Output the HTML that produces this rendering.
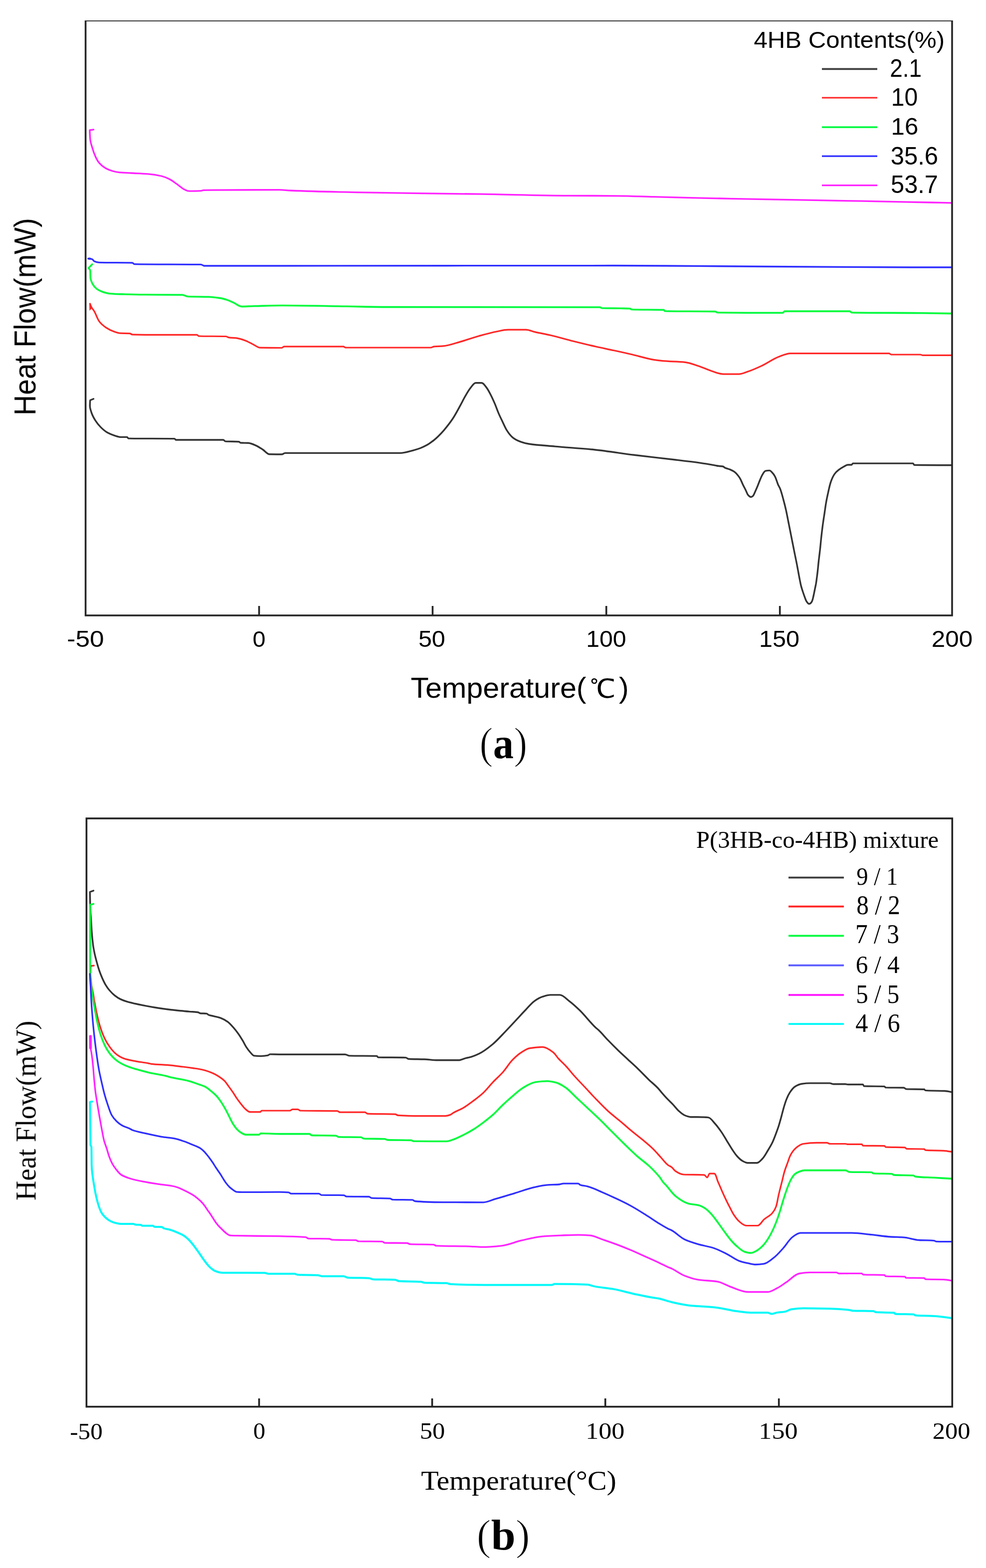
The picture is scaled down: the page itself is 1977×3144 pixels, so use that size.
<!DOCTYPE html>
<html lang="en"><head><meta charset="utf-8"><title>DSC thermograms of P(3HB-co-4HB)</title>
<style>
html,body{margin:0;padding:0;background:#fff;}
body{width:1977px;height:3144px;overflow:hidden;}
svg{display:block;}
</style></head>
<body>
<svg width="1977" height="3144" viewBox="0 0 1977 3144" xmlns="http://www.w3.org/2000/svg">
<defs><filter id="soft" x="0" y="0" width="1" height="1"><feGaussianBlur stdDeviation="0.5"/></filter></defs>
<rect width="1977" height="3144" fill="#fff"/>
<g filter="url(#soft)">
<!-- ===== Plot (a): 4HB contents ===== -->
<g fill="none" stroke-linejoin="round" stroke-linecap="round">
<path d="M187.5,799.8L180.9,802.5C180.3,806.5 180.3,810.4 180.3,814.3C180.3,818.8 182.1,823.3 183.5,827.6C185.3,833.1 188.3,838.5 191.4,843.4C194.3,848.1 198.1,852.7 202.0,856.6C205.9,860.5 210.4,864.5 215.2,867.2C220.0,869.9 225.6,872.1 231.0,873.8C234.4,874.9 238.0,876.4 241.6,876.4C245.9,876.4 251.3,876.4 254.8,876.4C255.8,876.4 256.5,879.1 257.5,879.1C281.7,879.6 324.7,879.1 349.9,879.6C350.9,879.6 351.6,882.0 352.6,882.0C378.6,882.0 420.2,882.0 447.7,882.0C449.1,882.0 450.3,884.8 451.7,884.9C459.8,885.5 471.6,885.0 479.4,885.7C480.3,885.8 481.1,887.7 482.0,887.8C486.5,888.2 492.7,888.0 497.9,888.3C503.3,888.6 508.7,891.4 513.7,893.6C518.3,895.6 522.7,898.7 527.0,901.5C531.5,904.4 535.4,910.7 540.2,910.8C547.6,910.9 557.1,911.0 565.0,911.0C567.3,911.0 569.3,908.4 571.6,908.4C645.1,908.4 726.8,908.4 802.8,908.4C811.7,908.4 820.5,905.0 829.2,902.8C833.9,901.6 838.5,900.2 843.0,898.5C847.3,896.9 851.6,894.8 855.6,892.6C858.5,891.0 861.3,888.9 864.0,887.0C866.2,885.4 868.5,883.8 870.6,882.1C873.3,879.9 876.0,877.5 878.5,875.0C882.6,871.0 886.7,866.7 890.4,862.3C896.5,855.1 902.4,847.6 907.6,839.8C913.4,831.0 918.3,821.4 923.4,812.1C927.0,805.5 930.2,798.7 934.0,792.3C937.2,786.9 940.5,781.1 944.5,776.4C947.2,773.3 950.2,767.8 953.8,767.8C957.2,767.8 962.3,767.8 965.7,767.8C969.2,767.8 972.4,773.2 974.9,776.4C978.6,781.0 981.4,786.9 984.2,792.3C987.1,797.9 989.6,803.6 992.1,809.4C994.9,816.0 997.2,822.8 1000.0,829.3C1002.5,835.1 1005.3,840.7 1008.0,846.4C1010.6,851.7 1012.8,857.4 1015.9,862.3C1019.5,868.0 1024.0,874.2 1029.1,878.1C1033.5,881.4 1039.4,884.2 1044.9,886.1C1049.7,887.8 1054.9,889.2 1060.0,890.0C1077.3,892.7 1095.2,893.5 1112.8,895.1C1139.2,897.5 1165.7,899.0 1192.1,901.7C1218.6,904.4 1244.9,909.0 1271.4,912.3C1297.8,915.6 1324.2,918.3 1350.6,921.5C1368.2,923.6 1385.9,925.6 1403.5,928.1C1414.1,929.6 1424.7,931.5 1435.2,933.4C1436.8,933.7 1438.4,934.1 1440.0,934.3C1443.4,934.8 1447.3,934.7 1450.3,935.5C1451.2,935.7 1451.8,936.9 1452.7,937.4C1456.0,939.2 1460.2,939.9 1463.8,941.4C1466.5,942.6 1469.4,943.8 1471.7,945.4C1474.7,947.4 1477.3,950.4 1479.6,953.3C1481.4,955.5 1483.0,957.9 1484.4,960.4C1486.2,963.7 1487.5,967.3 1489.1,970.7C1491.1,975.0 1493.4,979.2 1495.5,983.4C1497.1,986.6 1498.1,990.6 1500.2,992.9C1501.5,994.4 1503.9,996.5 1505.8,996.5C1507.1,996.5 1508.8,995.3 1509.7,994.5C1511.9,992.4 1513.0,988.2 1514.5,985.0C1516.2,981.4 1517.8,977.6 1519.3,973.9C1520.9,970.0 1522.3,965.9 1524.0,962.0C1525.5,958.5 1526.9,954.8 1528.8,951.7C1530.5,949.0 1532.5,944.8 1535.1,944.2C1537.2,943.7 1540.7,943.4 1543.0,943.4C1544.8,943.4 1546.4,945.6 1547.8,947.0C1550.3,949.4 1552.5,952.6 1554.1,955.7C1556.6,960.6 1557.8,966.4 1560.0,971.5C1561.3,974.5 1563.1,977.2 1564.3,980.2C1566.9,987.0 1568.7,994.2 1570.6,1001.3C1572.5,1008.3 1574.3,1015.3 1575.9,1022.4C1577.5,1029.4 1578.8,1036.5 1580.2,1043.6C1581.6,1050.6 1583.0,1057.7 1584.4,1064.7C1585.8,1071.7 1587.2,1078.8 1588.6,1085.8C1590.0,1092.9 1591.4,1099.9 1592.8,1107.0C1594.3,1114.7 1596.0,1122.3 1597.5,1130.0C1598.5,1135.3 1599.5,1140.7 1600.5,1146.0C1601.5,1151.3 1602.4,1156.7 1603.5,1162.0C1604.3,1166.0 1605.0,1170.0 1606.0,1174.0C1607.0,1178.0 1608.3,1182.0 1609.6,1186.0C1610.8,1189.6 1612.0,1193.1 1613.3,1196.6C1614.4,1199.6 1615.4,1203.0 1617.0,1205.6C1618.3,1207.6 1620.4,1210.9 1622.3,1210.9C1624.0,1210.9 1626.6,1208.4 1627.6,1206.7C1629.5,1203.4 1630.3,1198.3 1631.3,1194.0C1632.3,1189.6 1633.1,1185.2 1634.0,1180.8C1634.7,1177.2 1635.6,1173.6 1636.2,1170.0C1636.9,1165.7 1637.4,1161.3 1638.0,1157.0C1638.6,1152.6 1639.1,1148.2 1639.6,1143.8C1640.3,1137.5 1640.8,1131.3 1641.5,1125.0C1642.5,1116.2 1643.7,1107.3 1644.6,1098.5C1645.4,1091.5 1645.9,1084.4 1646.7,1077.4C1647.7,1068.6 1648.7,1059.8 1649.9,1051.0C1650.9,1043.9 1652.0,1036.9 1653.1,1029.8C1654.1,1022.8 1655.0,1015.7 1656.2,1008.7C1657.4,1001.6 1658.9,994.6 1660.5,987.6C1662.1,980.5 1663.5,973.2 1665.8,966.4C1667.6,961.0 1670.1,955.2 1673.2,950.6C1675.3,947.4 1678.5,944.5 1681.6,942.1C1684.7,939.7 1688.2,937.5 1691.7,935.7C1694.4,934.3 1697.1,932.0 1700.0,932.0C1702.3,932.0 1705.3,932.0 1707.3,932.0C1708.4,932.0 1709.1,929.1 1710.2,929.1C1741.8,929.1 1804.0,929.1 1830.8,929.1C1831.7,929.1 1832.1,932.3 1833.0,932.3C1849.7,932.7 1872.7,932.7 1908.0,932.7" stroke="#333333" stroke-width="3.4"/>
<path d="M180.5,609.0C181.4,611.8 182.6,614.5 184.0,617.0C185.3,619.4 187.4,621.4 188.8,623.8C192.8,630.5 194.9,638.9 199.3,644.9C202.7,649.4 207.8,653.6 212.6,656.8C217.4,660.0 222.9,662.8 228.4,664.7C232.6,666.2 237.1,668.0 241.6,668.2C247.7,668.5 254.2,668.3 260.1,668.7C261.9,668.8 263.6,670.8 265.4,670.8C283.9,671.2 304.1,671.3 323.5,671.3C347.3,671.3 374.0,671.3 394.9,671.3C396.3,671.3 397.4,674.0 398.8,674.0C414.7,674.4 435.8,674.1 453.0,674.5C454.8,674.5 456.5,676.3 458.3,676.6C463.4,677.4 468.9,677.2 474.1,677.9C480.4,678.7 486.7,681.0 492.6,683.2C498.1,685.2 503.2,688.5 508.5,691.1C512.9,693.2 517.1,697.1 521.7,697.2C535.3,697.4 551.9,697.5 565.0,697.5C566.6,697.5 567.9,694.8 569.5,694.8C605.3,694.8 651.6,694.8 688.5,694.8C690.1,694.8 691.4,697.0 693.0,697.0C746.0,697.0 808.7,697.0 863.7,697.0C866.0,697.0 868.1,695.0 870.4,694.8C876.2,694.2 882.5,694.4 888.4,693.9C900.6,692.9 912.4,688.2 924.3,684.9C936.4,681.5 948.1,677.1 960.2,673.7C972.1,670.4 984.1,667.0 996.2,664.7C1003.6,663.3 1011.1,661.1 1018.6,661.1C1030.5,661.1 1042.8,661.1 1054.6,661.1C1060.6,661.1 1066.5,664.2 1072.5,665.6C1083.0,668.0 1093.6,669.9 1104.0,672.3C1119.1,675.8 1133.9,680.2 1148.9,684.0C1163.8,687.7 1178.8,691.4 1193.8,694.8C1205.8,697.5 1217.9,699.9 1230.0,702.5C1242.0,705.1 1254.0,707.7 1265.9,710.5C1280.9,714.0 1295.7,718.9 1310.8,721.3C1316.7,722.3 1322.8,723.1 1328.8,723.6C1343.7,724.9 1359.0,724.8 1373.7,726.3C1382.9,727.3 1391.8,731.0 1400.7,733.9C1409.8,736.9 1418.5,741.4 1427.6,744.2C1435.0,746.5 1442.5,750.1 1450.1,750.1C1460.4,750.1 1471.2,750.1 1481.5,750.1C1487.6,750.1 1493.6,747.0 1499.5,745.1C1508.7,742.1 1517.6,738.0 1526.4,733.9C1538.7,728.2 1549.9,719.5 1562.4,715.0C1569.6,712.4 1577.2,708.7 1584.8,708.7C1649.1,708.7 1721.3,708.7 1782.4,708.7C1784.0,708.7 1785.4,711.0 1787.0,711.0C1805.1,711.0 1826.4,711.0 1845.3,711.0C1846.8,711.0 1848.3,712.3 1849.8,712.3C1868.7,712.3 1887.9,712.3 1908.0,712.3" stroke="#ff2626" stroke-width="3.2"/>
<path d="M184.8,530.0L177.5,537.5C178.9,539.1 180.8,540.7 180.9,542.5C181.3,546.8 181.1,552.3 181.4,557.0C181.7,561.5 184.0,566.3 186.1,570.2C187.9,573.6 191.0,577.1 194.1,579.4C197.1,581.6 201.0,583.4 204.6,584.7C209.7,586.5 215.1,588.3 220.5,588.7C230.0,589.5 239.8,589.7 249.5,590.0C262.7,590.4 276.0,590.7 289.2,590.8C314.7,591.1 341.0,590.9 365.8,591.3C369.4,591.4 372.8,594.3 376.4,594.5C390.1,595.1 404.6,594.8 418.6,595.3C426.6,595.6 434.6,596.6 442.4,597.9C446.9,598.6 451.3,600.0 455.6,601.4C460.1,602.9 464.4,605.2 468.8,607.2C474.1,609.6 479.2,614.6 484.7,614.6C492.2,614.6 500.6,614.0 508.5,613.8C527.3,613.3 546.2,612.5 565.0,612.5C608.3,612.5 651.7,613.7 695.0,614.3C722.0,614.7 749.0,615.5 776.0,615.6C918.3,615.9 1068.4,615.6 1202.8,616.0C1204.2,616.0 1205.6,617.7 1207.0,617.8C1219.0,618.2 1232.3,618.1 1245.0,618.3C1251.2,618.4 1258.4,618.4 1263.7,618.7C1264.5,618.8 1265.2,620.5 1266.0,620.5C1284.4,621.3 1314.8,620.6 1331.0,621.4C1331.8,621.4 1332.2,623.7 1333.0,623.7C1358.0,624.6 1402.2,623.8 1434.0,624.6C1435.7,624.6 1437.3,626.8 1439.0,626.8C1479.9,627.3 1531.1,627.3 1569.0,627.3C1570.6,627.3 1572.0,624.1 1573.6,624.1C1611.6,624.1 1665.2,624.1 1703.8,624.1C1705.3,624.1 1706.5,626.8 1708.0,626.8C1750.1,627.7 1802.5,627.2 1849.8,627.7C1869.2,627.9 1888.6,628.2 1908.0,628.6" stroke="#00fa3c" stroke-width="3.6"/>
<path d="M176.9,518.5C180.0,518.5 182.6,519.1 184.8,519.8C186.3,520.3 187.3,523.1 188.8,523.8C191.7,525.2 195.8,526.3 199.3,526.4C220.9,526.9 245.8,526.5 265.4,527.0C266.8,527.0 268.0,529.6 269.4,529.6C308.9,530.4 360.4,529.7 402.8,530.4C405.1,530.4 407.1,533.0 409.4,533.0C458.9,533.0 513.1,533.0 565.0,533.0C786.7,533.0 1008.3,532.5 1230.0,532.5C1283.9,532.5 1337.8,533.1 1391.7,533.4C1536.8,534.2 1681.9,536.0 1827.0,536.0C1854.0,536.0 1881.0,536.0 1908.0,536.0" stroke="#2e2eff" stroke-width="3.3"/>
<path d="M187.5,259.8L180.0,261.0C180.0,267.3 180.4,273.5 180.9,279.6C181.3,285.0 183.3,290.3 184.8,295.5C186.6,301.8 188.7,308.1 191.4,314.0C193.5,318.6 196.1,323.5 199.3,327.2C202.8,331.3 207.8,335.2 212.6,337.8C216.6,340.0 221.3,341.8 225.8,343.0C230.1,344.2 234.6,345.3 239.0,345.7C246.9,346.4 254.9,346.6 262.8,347.0C274.2,347.6 285.7,347.9 297.1,348.8C305.9,349.5 314.9,351.0 323.5,353.0C328.9,354.3 334.4,356.5 339.4,358.9C345.0,361.6 350.0,365.9 355.2,369.5C360.5,373.1 365.4,378.1 371.1,380.6C373.6,381.7 376.3,383.2 379.0,383.2C386.7,383.2 395.0,383.1 402.8,382.7C404.6,382.6 406.2,381.3 408.0,381.3C457.5,380.7 509.4,380.7 560.0,380.7C567.3,380.7 574.7,381.7 582.0,382.0C625.5,383.8 669.1,384.8 712.7,385.6C796.5,387.2 880.2,387.9 964.0,389.2C1022.3,390.1 1080.7,391.9 1139.0,392.3C1172.7,392.5 1206.3,392.5 1240.0,392.8C1263.7,393.0 1287.3,394.1 1311.0,394.7C1361.8,396.0 1412.7,397.2 1463.5,398.3C1519.0,399.5 1574.5,400.4 1630.0,401.4C1662.8,402.0 1695.7,402.6 1728.5,403.2C1775.0,404.1 1821.5,405.1 1868.0,406.0C1881.3,406.3 1894.7,406.5 1908.0,406.8" stroke="#ff22ff" stroke-width="3.3"/>
</g>
<polygon points="179,607.5 185.5,617 179.5,623" fill="#ff2626"/>
<ellipse cx="179.5" cy="518.6" rx="3.2" ry="2.2" fill="#2e2eff"/>
<rect x="171.6" y="41" width="1737.4" height="1193" fill="none" stroke="#262626" stroke-width="3.6"/>
<g stroke="#262626" stroke-width="3.6"><line x1="519.5" y1="1234" x2="519.5" y2="1215"/><line x1="867.4" y1="1234" x2="867.4" y2="1215"/><line x1="1215.7" y1="1234" x2="1215.7" y2="1215"/><line x1="1563.7" y1="1234" x2="1563.7" y2="1215"/></g>
<g fill="none"><line x1="1648" y1="138.4" x2="1759" y2="138.4" stroke="#3c3c3c" stroke-width="3.6"/><line x1="1648" y1="196.0" x2="1759" y2="196.0" stroke="#ff2626" stroke-width="3.2"/><line x1="1648" y1="255.0" x2="1759" y2="255.0" stroke="#00fa3c" stroke-width="3.6"/><line x1="1648" y1="313.2" x2="1759" y2="313.2" stroke="#2e2eff" stroke-width="3.2"/><line x1="1648" y1="371.6" x2="1759" y2="371.6" stroke="#ff22ff" stroke-width="3.2"/></g>
<g fill="#000">
<text transform="matrix(1.1683 0 0 1.0548 134.26 1297.20)" font-family='"Liberation Sans","WenQuanYi Zen Hei",sans-serif' font-size="44">-50</text>
<text transform="matrix(1.0591 0 0 1.0065 506.54 1296.80)" font-family='"Liberation Sans","WenQuanYi Zen Hei",sans-serif' font-size="44">0</text>
<text transform="matrix(1.1022 0 0 1.0484 838.90 1297.30)" font-family='"Liberation Sans","WenQuanYi Zen Hei",sans-serif' font-size="44">50</text>
<text transform="matrix(1.0957 0 0 1.0419 1175.21 1297.50)" font-family='"Liberation Sans","WenQuanYi Zen Hei",sans-serif' font-size="44">100</text>
<text transform="matrix(1.1029 0 0 1.0581 1522.09 1297.30)" font-family='"Liberation Sans","WenQuanYi Zen Hei",sans-serif' font-size="44">150</text>
<text transform="matrix(1.1229 0 0 1.0645 1867.75 1297.00)" font-family='"Liberation Sans","WenQuanYi Zen Hei",sans-serif' font-size="44">200</text>
<text transform="matrix(1.0575 0 0 1.0154 823.44 1399.12)" font-family='"Liberation Sans","WenQuanYi Zen Hei",sans-serif' font-size="56">Temperature(<tspan dx="7" font-family="WenQuanYi Zen Hei" font-size="52">&#8451;</tspan><tspan dx="7">)</tspan></text>
<text transform="matrix(1.0750 0 0 1.0183 71.10 833.07) rotate(-90)" font-family='"Liberation Sans","WenQuanYi Zen Hei",sans-serif' font-size="56">Heat Flow(mW)</text>
<text transform="matrix(1.0692 0 0 0.9909 1511.43 96.19)" font-family='"Liberation Sans","WenQuanYi Zen Hei",sans-serif' font-size="46">4HB Contents(%)</text>
<text transform="matrix(0.9983 0 0 1.0781 1784.20 154.40)" font-family='"Liberation Sans","WenQuanYi Zen Hei",sans-serif' font-size="46">2.1</text>
<text transform="matrix(1.0468 0 0 1.0875 1786.66 212.20)" font-family='"Liberation Sans","WenQuanYi Zen Hei",sans-serif' font-size="46">10</text>
<text transform="matrix(1.0696 0 0 1.0500 1786.59 270.40)" font-family='"Liberation Sans","WenQuanYi Zen Hei",sans-serif' font-size="46">16</text>
<text transform="matrix(1.0651 0 0 1.1031 1785.67 329.50)" font-family='"Liberation Sans","WenQuanYi Zen Hei",sans-serif' font-size="46">35.6</text>
<text transform="matrix(1.0605 0 0 1.0875 1786.08 387.30)" font-family='"Liberation Sans","WenQuanYi Zen Hei",sans-serif' font-size="46">53.7</text>
</g>
<!-- ===== Plot (b): P(3HB-co-4HB) mixtures ===== -->
<g fill="none" stroke-linejoin="round" stroke-linecap="round">
<path d="M187.4,1785.8L180.3,1788.5C180.4,1796.2 180.6,1803.8 180.8,1811.5C181.0,1817.7 181.3,1823.8 181.6,1830.0C181.8,1833.8 182.2,1837.6 182.4,1841.4C183.0,1850.8 183.4,1860.3 184.1,1869.7C184.7,1878.0 185.5,1886.3 186.6,1894.6C187.4,1900.7 188.6,1906.8 189.9,1912.9C191.1,1918.5 192.6,1924.0 194.1,1929.5C195.6,1935.1 197.2,1940.6 199.1,1946.1C200.8,1951.1 202.8,1956.1 204.9,1961.0C206.9,1965.5 209.0,1970.1 211.5,1974.3C213.9,1978.4 216.7,1982.4 219.8,1986.0C222.8,1989.5 226.2,1993.0 229.8,1995.9C233.3,1998.7 237.3,2001.4 241.4,2003.4C245.6,2005.4 250.2,2007.0 254.7,2008.4C260.1,2010.0 265.7,2011.2 271.3,2012.5C277.9,2014.0 284.5,2015.4 291.2,2016.7C298.9,2018.2 306.7,2019.6 314.5,2020.8C322.8,2022.1 331.1,2023.2 339.4,2024.2C347.3,2025.2 355.3,2026.0 363.2,2026.8C368.8,2027.4 374.4,2027.9 380.0,2028.4C385.7,2028.9 391.9,2028.8 397.2,2029.7C398.6,2029.9 399.7,2031.5 401.1,2031.7C405.2,2032.2 410.3,2031.9 414.3,2032.4C415.7,2032.6 416.9,2034.4 418.3,2035.0C421.5,2036.3 425.4,2036.7 428.9,2037.6C433.8,2038.9 438.8,2039.9 443.4,2041.6C448.0,2043.3 452.7,2046.0 456.6,2048.9C460.5,2051.8 463.9,2055.7 467.2,2059.4C471.0,2063.6 474.5,2068.1 477.8,2072.7C481.1,2077.3 484.1,2082.3 487.0,2087.2C489.3,2091.1 491.2,2095.3 493.6,2099.1C496.0,2102.8 498.6,2106.4 501.5,2109.6C503.9,2112.2 506.4,2116.5 509.5,2116.9C513.2,2117.3 518.3,2117.6 522.7,2117.6C527.5,2117.6 532.8,2117.1 537.2,2116.2C538.6,2115.9 539.8,2113.9 541.2,2113.9C546.9,2113.9 553.7,2114.2 560.0,2114.2C604.0,2114.2 649.6,2114.2 692.1,2114.2C694.8,2114.2 697.3,2116.8 700.0,2116.9C717.9,2117.3 740.7,2116.9 755.5,2117.4C756.5,2117.4 757.2,2120.0 758.2,2120.0C773.0,2120.5 796.4,2120.1 813.6,2120.6C815.4,2120.7 817.1,2123.1 818.9,2123.2C828.8,2123.8 840.0,2123.6 850.6,2124.0C859.4,2124.3 868.2,2125.8 877.0,2125.8C891.1,2125.8 905.5,2125.8 919.3,2125.8C924.7,2125.8 929.8,2122.5 935.2,2121.3C936.8,2121.0 938.4,2120.8 940.0,2120.4C947.2,2118.7 954.5,2115.7 961.1,2112.5C970.6,2107.9 979.4,2100.8 987.6,2094.0C997.1,2086.1 1005.4,2076.5 1014.0,2067.6C1021.1,2060.2 1028.1,2052.6 1035.1,2045.1C1041.3,2038.5 1047.3,2031.8 1053.6,2025.3C1059.7,2019.0 1065.2,2011.6 1072.1,2006.8C1076.8,2003.5 1082.4,2000.2 1088.0,1998.4C1093.0,1996.8 1098.5,1994.9 1103.8,1994.9C1109.9,1994.9 1116.7,1994.9 1122.3,1994.9C1129.0,1994.9 1135.0,2002.5 1140.8,2006.8C1148.2,2012.3 1155.2,2018.8 1161.9,2025.3C1173.1,2036.1 1182.3,2049.0 1193.6,2059.7C1195.6,2061.6 1198.0,2063.4 1200.0,2065.3C1207.0,2071.9 1213.1,2079.5 1219.8,2086.4C1226.3,2093.1 1232.9,2099.7 1239.6,2106.2C1246.1,2112.5 1252.8,2118.5 1259.4,2124.7C1266.0,2130.9 1272.8,2136.9 1279.3,2143.2C1286.5,2150.1 1293.2,2157.5 1300.4,2164.4C1306.4,2170.2 1313.2,2175.4 1318.9,2181.5C1321.7,2184.4 1324.1,2187.7 1326.8,2190.8C1330.3,2194.8 1333.8,2198.8 1337.4,2202.7C1341.2,2206.8 1345.4,2210.5 1349.3,2214.6C1353.4,2218.9 1356.9,2223.9 1361.2,2227.8C1364.4,2230.7 1367.9,2234.0 1371.7,2235.7C1375.7,2237.5 1380.4,2239.6 1384.9,2239.7C1389.6,2239.8 1394.5,2239.7 1399.3,2239.8C1406.2,2239.9 1414.1,2240.1 1420.0,2240.6C1425.0,2241.0 1429.2,2248.2 1433.2,2252.5C1438.0,2257.7 1442.3,2263.7 1446.4,2269.6C1450.2,2275.1 1453.5,2281.1 1457.0,2286.8C1460.5,2292.5 1463.9,2298.4 1467.6,2304.0C1470.9,2309.0 1474.1,2314.2 1478.1,2318.5C1481.2,2321.9 1484.8,2325.7 1488.7,2327.8C1491.9,2329.5 1495.7,2331.7 1499.3,2331.7C1505.3,2331.7 1512.4,2331.7 1517.8,2331.7C1521.7,2331.7 1525.4,2326.8 1528.3,2323.8C1532.5,2319.4 1535.6,2313.4 1538.9,2308.0C1542.1,2302.8 1545.4,2297.6 1548.1,2292.1C1550.6,2287.0 1552.6,2281.5 1554.7,2276.2C1557.0,2270.1 1559.3,2264.0 1561.3,2257.8C1563.2,2251.7 1564.9,2245.5 1566.6,2239.3C1568.4,2232.7 1569.9,2226.0 1571.9,2219.4C1573.5,2214.1 1575.1,2208.7 1577.2,2203.6C1579.0,2199.1 1581.2,2194.4 1583.8,2190.4C1586.6,2186.1 1590.3,2181.1 1594.4,2178.5C1598.1,2176.2 1603.0,2173.8 1607.6,2173.2C1612.8,2172.5 1618.4,2171.9 1623.8,2171.9C1637.0,2171.9 1650.5,2171.9 1663.5,2171.9C1666.2,2171.9 1668.7,2173.8 1671.4,2173.8C1679.2,2173.8 1687.3,2173.8 1695.2,2173.8C1696.8,2173.8 1698.4,2174.5 1700.0,2174.5C1710.0,2174.5 1723.5,2174.5 1730.2,2174.5C1731.1,2174.5 1731.5,2177.7 1732.4,2177.8C1741.4,2178.3 1762.6,2177.9 1773.4,2178.4C1774.2,2178.4 1774.8,2180.6 1775.6,2180.6C1785.3,2181.0 1801.2,2180.7 1812.3,2181.0C1813.8,2181.0 1815.1,2183.5 1816.6,2183.6C1827.7,2184.2 1843.6,2183.7 1853.3,2184.3C1854.1,2184.4 1854.6,2186.3 1855.4,2186.4C1865.6,2187.4 1881.4,2186.8 1894.3,2187.5C1899.0,2187.8 1903.6,2188.8 1908.3,2189.7" stroke="#333333" stroke-width="3.4"/>
<path d="M188.3,1936.1L182.0,1936.8C181.6,1941.9 181.5,1946.9 181.5,1952.0C181.5,1959.7 182.6,1967.4 183.5,1975.0C184.2,1980.4 185.6,1985.7 186.6,1991.0C187.8,1997.6 188.7,2004.3 189.9,2010.9C191.4,2019.2 193.0,2027.6 194.9,2035.8C196.8,2044.2 198.9,2052.6 201.5,2060.7C203.8,2068.0 206.6,2075.4 209.9,2082.3C212.6,2088.1 216.1,2093.7 219.8,2098.9C223.2,2103.6 227.0,2108.6 231.4,2112.2C236.2,2116.2 242.2,2120.1 248.1,2122.2C254.3,2124.4 261.3,2125.8 268.0,2127.1C277.9,2129.1 288.0,2130.2 297.9,2132.1C299.7,2132.5 301.6,2133.1 303.4,2133.3C313.8,2134.5 324.6,2134.5 335.1,2135.4C345.7,2136.3 356.2,2137.7 366.8,2139.0C373.9,2139.9 380.9,2140.8 388.0,2141.8C392.0,2142.4 396.0,2142.9 400.0,2143.7C403.8,2144.4 407.5,2145.3 411.2,2146.3C416.2,2147.7 421.1,2149.5 425.8,2151.5C430.2,2153.4 434.6,2155.7 438.6,2158.3C442.5,2160.8 446.6,2163.7 449.8,2166.9C453.0,2170.1 455.6,2174.3 458.4,2178.1C461.3,2182.1 464.2,2186.0 467.0,2190.1C469.7,2194.0 472.0,2198.2 474.7,2202.1C477.1,2205.6 479.7,2209.0 482.4,2212.4C485.2,2215.9 487.8,2219.8 491.0,2222.7C494.0,2225.4 497.6,2229.6 501.3,2229.6C507.5,2229.6 516.4,2229.6 521.9,2229.6C522.9,2229.6 523.5,2227.0 524.5,2227.0C533.9,2227.0 548.2,2227.0 560.0,2227.0C567.0,2227.0 574.5,2227.0 581.1,2227.0C582.9,2227.0 584.5,2224.4 586.4,2224.4C589.7,2224.4 593.7,2224.4 597.0,2224.4C598.9,2224.4 600.5,2227.0 602.3,2227.0C625.3,2227.5 653.2,2227.1 676.2,2227.6C678.0,2227.6 679.7,2230.2 681.5,2230.2C697.1,2230.2 716.3,2230.2 731.7,2230.2C733.6,2230.2 735.2,2233.0 737.0,2233.1C754.0,2234.0 774.8,2233.3 792.5,2234.2C794.3,2234.3 796.0,2236.2 797.8,2236.3C812.9,2237.3 829.5,2237.6 845.3,2237.6C861.2,2237.6 877.3,2237.6 892.9,2237.6C896.5,2237.6 900.3,2236.3 903.5,2235.0C905.5,2234.2 907.2,2232.4 909.2,2231.2C915.5,2227.5 922.7,2225.0 929.0,2221.3C935.9,2217.3 942.4,2212.3 948.8,2207.5C955.6,2202.4 962.5,2197.3 968.6,2191.6C975.7,2185.0 981.6,2176.9 988.4,2169.8C994.8,2163.1 1002.0,2157.0 1008.2,2150.0C1015.0,2142.3 1020.2,2133.0 1027.2,2125.7C1032.7,2119.9 1039.0,2114.2 1045.7,2109.9C1050.6,2106.8 1056.0,2102.9 1061.5,2101.9C1069.8,2100.4 1079.7,2099.3 1088.0,2099.3C1095.4,2099.3 1103.3,2105.4 1109.1,2109.9C1113.3,2113.1 1116.2,2118.7 1120.0,2122.9C1124.6,2127.9 1129.9,2132.4 1134.5,2137.4C1140.6,2143.9 1146.0,2151.1 1152.0,2157.8C1159.1,2165.7 1166.5,2173.3 1173.8,2181.0C1181.1,2188.8 1188.2,2196.7 1195.6,2204.3C1203.2,2212.2 1210.7,2220.2 1218.8,2227.5C1227.2,2235.1 1236.3,2242.0 1245.0,2249.3C1251.8,2255.1 1258.4,2261.1 1265.3,2266.8C1272.5,2272.7 1280.0,2278.3 1287.1,2284.2C1294.5,2290.3 1302.0,2296.4 1308.9,2303.1C1315.0,2309.0 1320.5,2315.7 1326.3,2322.0C1330.8,2326.9 1334.8,2332.8 1340.0,2336.5C1341.9,2337.9 1344.5,2338.6 1346.4,2340.0C1349.4,2342.2 1351.3,2346.2 1354.3,2348.2C1358.8,2351.2 1364.7,2354.8 1370.2,2355.0C1383.4,2355.6 1400.4,2355.1 1411.9,2355.8C1414.1,2355.9 1416.1,2361.0 1417.8,2361.0C1419.8,2361.0 1420.8,2353.1 1423.1,2353.1C1425.2,2353.1 1429.9,2353.1 1431.7,2353.1C1435.6,2353.1 1437.1,2364.1 1439.6,2369.6C1442.4,2375.7 1444.9,2382.0 1447.6,2388.1C1450.2,2393.9 1452.8,2399.6 1455.5,2405.3C1458.0,2410.6 1460.7,2415.9 1463.4,2421.1C1466.0,2426.0 1468.3,2431.1 1471.3,2435.7C1474.4,2440.4 1477.8,2445.4 1481.9,2448.9C1486.0,2452.4 1491.2,2457.5 1496.4,2457.5C1503.3,2457.5 1512.6,2457.5 1518.9,2457.5C1524.0,2457.5 1527.5,2448.8 1532.1,2444.9C1537.1,2440.6 1543.9,2437.7 1548.0,2433.0C1551.2,2429.4 1554.3,2424.5 1555.9,2419.8C1558.5,2412.4 1559.3,2403.9 1561.2,2396.0C1563.3,2387.2 1565.6,2378.4 1567.8,2369.6C1569.6,2362.6 1571.0,2355.4 1573.1,2348.5C1575.0,2342.2 1577.5,2336.2 1579.7,2330.0C1581.2,2325.9 1582.3,2321.6 1584.2,2317.8C1587.3,2311.5 1592.1,2304.8 1597.4,2300.6C1601.0,2297.7 1606.0,2294.2 1610.6,2293.5C1618.8,2292.2 1628.2,2291.4 1637.0,2291.4C1644.1,2291.4 1651.4,2291.4 1658.2,2291.4C1660.0,2291.4 1661.7,2293.5 1663.5,2293.5C1673.6,2293.5 1684.7,2293.5 1695.2,2293.5C1696.8,2293.5 1698.4,2294.4 1700.0,2294.4C1709.3,2294.4 1721.5,2294.4 1728.1,2294.4C1728.9,2294.4 1729.4,2297.2 1730.2,2297.2C1740.3,2297.6 1762.0,2297.2 1773.4,2297.6C1774.2,2297.6 1774.8,2299.7 1775.6,2299.8C1785.8,2300.7 1803.4,2300.0 1814.4,2300.8C1815.6,2300.9 1816.5,2303.3 1817.7,2303.4C1827.8,2304.0 1843.9,2303.5 1853.3,2304.1C1854.1,2304.2 1854.6,2306.1 1855.4,2306.2C1865.1,2307.2 1879.9,2306.6 1892.1,2307.3C1897.5,2307.6 1902.9,2308.6 1908.3,2309.5" stroke="#ff2626" stroke-width="3.2"/>
<path d="M187.4,1812.4L180.5,1814.2C180.6,1819.5 180.8,1824.7 180.8,1830.0C180.8,1870.9 180.8,1911.9 180.8,1952.7C180.8,1961.0 182.4,1969.3 183.3,1977.6C184.3,1985.9 185.4,1994.3 186.6,2002.6C187.8,2010.9 189.2,2019.2 190.7,2027.5C192.2,2035.8 193.8,2044.2 195.7,2052.4C197.4,2059.7 199.2,2066.9 201.5,2074.0C203.8,2081.3 206.6,2088.7 209.9,2095.6C212.6,2101.4 216.0,2107.2 219.8,2112.2C224.0,2117.7 229.3,2123.1 234.8,2127.1C240.2,2131.1 246.7,2134.4 253.0,2137.1C259.4,2139.8 266.3,2141.8 273.0,2143.8C281.2,2146.2 289.5,2148.5 297.9,2150.4C308.9,2152.9 320.1,2154.5 331.1,2157.0C336.0,2158.1 340.8,2159.7 345.7,2160.8C356.2,2163.2 367.0,2164.5 377.4,2167.2C385.0,2169.2 392.5,2172.0 400.0,2174.7C403.8,2176.0 407.7,2177.2 411.2,2178.9C415.8,2181.2 419.9,2185.0 424.0,2188.4C427.6,2191.3 431.2,2194.4 434.3,2197.8C437.4,2201.2 440.2,2205.1 442.9,2209.0C445.4,2212.6 447.6,2216.4 449.8,2220.2C451.9,2223.8 453.9,2227.6 455.8,2231.3C457.9,2235.3 459.7,2239.3 461.8,2243.3C463.7,2247.1 465.6,2251.0 467.8,2254.5C470.1,2258.1 472.7,2261.8 475.6,2264.8C478.1,2267.4 481.0,2270.0 484.1,2271.7C486.7,2273.1 489.7,2275.1 492.7,2275.1C501.2,2275.1 511.7,2275.1 519.4,2275.1C520.6,2275.1 521.6,2272.5 522.8,2272.5C533.5,2272.5 547.6,2273.6 560.0,2273.6C580.3,2273.6 603.2,2273.6 620.8,2273.6C622.2,2273.6 623.3,2276.3 624.7,2276.4C638.9,2277.1 658.4,2276.5 673.6,2277.2C675.4,2277.3 677.1,2279.7 678.9,2279.8C692.9,2280.2 709.9,2279.9 723.8,2280.3C725.6,2280.4 727.3,2282.9 729.1,2283.0C742.2,2283.7 757.8,2283.1 771.4,2283.8C773.2,2283.9 774.8,2285.5 776.6,2285.6C791.9,2286.3 808.9,2285.7 824.2,2286.4C826.0,2286.5 827.7,2288.3 829.5,2288.3C850.6,2288.5 873.8,2288.5 895.3,2288.5C900.0,2288.5 904.7,2286.2 909.2,2284.7C916.0,2282.4 922.5,2279.0 929.0,2275.8C935.7,2272.5 942.4,2268.8 948.8,2264.9C955.6,2260.7 962.2,2255.9 968.6,2251.1C975.4,2246.0 982.1,2240.8 988.4,2235.2C995.3,2229.0 1001.4,2221.8 1008.2,2215.4C1014.7,2209.3 1021.3,2203.3 1028.1,2197.6C1034.6,2192.1 1040.8,2186.0 1047.9,2181.7C1055.8,2176.9 1064.6,2171.1 1073.6,2169.8C1081.2,2168.7 1089.5,2167.8 1097.4,2167.8C1103.1,2167.8 1108.9,2169.2 1114.4,2170.5C1116.3,2171.0 1118.2,2171.7 1120.0,2172.5C1125.1,2174.7 1130.0,2177.8 1134.5,2181.0C1142.4,2186.7 1149.0,2194.6 1156.3,2201.4C1163.6,2208.2 1170.8,2214.9 1178.1,2221.7C1185.9,2229.0 1193.8,2236.1 1201.4,2243.5C1209.3,2251.1 1216.9,2259.0 1224.6,2266.8C1233.3,2275.5 1242.0,2284.3 1250.8,2292.9C1259.4,2301.2 1267.9,2309.7 1276.9,2317.6C1284.9,2324.7 1293.7,2330.8 1301.6,2338.0C1305.6,2341.7 1309.6,2345.6 1313.3,2349.6C1316.8,2353.3 1320.3,2357.1 1323.4,2361.2C1325.5,2364.0 1327.1,2367.2 1329.2,2369.9C1331.2,2372.4 1333.7,2374.6 1335.9,2377.0C1342.2,2383.9 1347.3,2392.5 1354.3,2398.1C1361.9,2404.3 1371.3,2411.0 1380.8,2413.4C1386.8,2414.9 1393.9,2415.0 1400.0,2416.5C1404.6,2417.6 1409.2,2420.0 1413.2,2422.5C1418.1,2425.5 1422.4,2430.1 1426.4,2434.4C1431.2,2439.6 1435.3,2445.7 1439.6,2451.5C1444.1,2457.6 1448.3,2463.9 1452.8,2470.0C1457.1,2475.8 1461.3,2481.8 1466.0,2487.2C1470.1,2491.9 1474.5,2496.5 1479.3,2500.4C1483.4,2503.8 1487.7,2508.2 1492.5,2509.7C1496.5,2511.0 1501.4,2512.3 1505.7,2512.3C1509.3,2512.3 1513.0,2510.0 1516.2,2508.3C1521.0,2505.8 1525.7,2501.7 1529.5,2497.8C1534.6,2492.5 1538.9,2485.8 1542.7,2479.3C1546.7,2472.6 1550.1,2465.3 1553.2,2458.1C1556.7,2449.9 1559.7,2441.5 1562.5,2433.0C1565.4,2424.3 1567.6,2415.4 1570.4,2406.6C1572.9,2398.6 1575.4,2390.6 1578.3,2382.8C1580.7,2376.5 1583.0,2370.0 1586.3,2364.3C1588.4,2360.7 1590.9,2356.5 1594.0,2354.0C1596.4,2352.1 1599.7,2350.4 1602.7,2349.3C1606.1,2348.1 1609.7,2346.6 1613.3,2346.6C1640.1,2346.6 1669.4,2346.6 1695.2,2346.6C1697.9,2346.6 1700.4,2349.9 1703.1,2350.0C1717.1,2350.4 1734.5,2350.1 1747.5,2350.5C1748.6,2350.5 1749.6,2352.6 1750.7,2352.7C1761.8,2353.5 1777.3,2352.9 1788.5,2353.7C1789.7,2353.8 1790.6,2355.8 1791.8,2355.9C1803.6,2356.8 1819.9,2356.1 1831.7,2357.0C1832.8,2357.1 1833.8,2358.9 1834.9,2359.1C1846.1,2360.8 1860.1,2360.6 1872.7,2361.3C1884.6,2362.0 1896.4,2362.7 1908.3,2363.4" stroke="#00fa3c" stroke-width="3.6"/>
<path d="M180.0,1952.7C180.6,1961.0 181.1,1969.3 181.6,1977.6C182.2,1988.7 182.6,1999.8 183.3,2010.9C184.0,2022.0 184.9,2033.0 185.8,2044.1C186.7,2055.2 187.9,2066.2 189.1,2077.3C190.3,2088.4 191.7,2099.5 193.2,2110.5C194.7,2121.6 196.2,2132.8 198.2,2143.8C200.0,2154.1 202.5,2164.3 204.8,2174.5C206.4,2181.4 207.9,2188.2 209.8,2195.0C211.6,2201.7 213.7,2208.4 216.0,2215.0C218.4,2222.1 220.5,2229.7 224.0,2236.0C226.5,2240.5 230.3,2244.9 234.0,2248.5C237.1,2251.5 240.8,2254.4 244.5,2256.5C249.3,2259.2 255.0,2260.6 260.0,2263.0C261.9,2263.9 263.7,2265.3 265.7,2266.0C274.0,2269.1 283.3,2270.7 292.1,2272.7C302.6,2275.1 313.2,2277.5 323.8,2279.3C332.5,2280.7 341.4,2281.3 350.0,2282.9C356.7,2284.2 363.3,2286.6 369.8,2288.8C376.5,2291.1 383.0,2294.2 389.6,2296.8C391.4,2297.5 393.2,2298.1 395.0,2298.9C397.0,2299.8 399.1,2300.7 400.9,2301.9C403.5,2303.5 405.9,2305.7 408.1,2307.8C410.4,2310.0 412.5,2312.5 414.6,2315.0C416.7,2317.5 418.7,2320.1 420.6,2322.7C422.6,2325.4 424.6,2328.2 426.5,2331.0C428.6,2334.1 430.4,2337.4 432.5,2340.5C434.2,2343.1 436.0,2345.7 437.8,2348.3C439.4,2350.7 441.1,2353.0 442.6,2355.4C444.2,2357.9 445.7,2360.6 447.3,2363.1C449.1,2365.9 450.8,2368.8 452.7,2371.4C454.7,2374.1 456.8,2376.8 459.2,2379.2C461.4,2381.3 463.8,2383.3 466.3,2385.1C468.8,2386.9 471.3,2389.6 474.1,2389.9C477.4,2390.2 481.4,2390.4 485.0,2390.4C510.0,2390.4 535.0,2390.2 560.0,2390.2C566.2,2390.2 572.7,2390.4 578.5,2390.8C580.3,2390.9 582.0,2393.4 583.8,2393.4C601.1,2393.4 622.2,2393.4 639.3,2393.4C641.1,2393.4 642.7,2396.0 644.5,2396.1C658.4,2396.5 675.5,2396.2 689.5,2396.6C691.3,2396.7 692.9,2399.2 694.7,2399.2C708.7,2399.5 725.7,2399.2 739.7,2399.5C741.5,2399.5 743.1,2402.0 744.9,2402.1C756.4,2403.0 770.1,2402.3 781.9,2403.2C783.7,2403.3 785.4,2405.2 787.2,2405.3C799.8,2405.7 814.5,2405.4 826.8,2405.8C828.6,2405.9 830.3,2408.3 832.1,2408.5C849.3,2410.2 869.1,2410.5 887.6,2410.6C914.8,2410.7 942.5,2410.8 969.1,2410.8C977.1,2410.8 984.9,2406.5 992.8,2404.2C1006.1,2400.4 1019.3,2396.3 1032.5,2392.3C1045.7,2388.3 1058.7,2383.3 1072.1,2380.4C1080.8,2378.5 1089.6,2376.5 1098.5,2375.9C1105.6,2375.4 1112.9,2375.5 1120.0,2375.0C1123.4,2374.7 1126.8,2373.1 1130.2,2373.1C1139.8,2373.1 1150.6,2373.1 1159.2,2373.1C1160.8,2373.1 1162.0,2375.5 1163.6,2376.0C1168.0,2377.5 1173.4,2377.7 1178.1,2378.9C1188.1,2381.5 1197.6,2386.4 1207.2,2390.5C1217.0,2394.6 1226.6,2399.1 1236.2,2403.6C1246.0,2408.2 1255.8,2412.9 1265.3,2418.1C1275.2,2423.5 1284.8,2429.6 1294.4,2435.6C1304.2,2441.7 1313.6,2448.4 1323.4,2454.4C1328.8,2457.7 1334.3,2461.1 1340.0,2463.9C1342.1,2464.9 1344.4,2465.7 1346.4,2466.8C1355.8,2471.8 1363.4,2480.8 1372.8,2485.3C1381.0,2489.2 1390.3,2492.0 1399.3,2494.6C1409.7,2497.7 1420.8,2499.2 1431.0,2502.5C1440.1,2505.5 1448.8,2510.1 1457.4,2514.4C1466.4,2518.8 1474.5,2525.8 1483.8,2528.9C1488.9,2530.6 1494.4,2531.8 1499.7,2532.9C1504.9,2533.9 1510.2,2535.5 1515.5,2535.5C1520.8,2535.5 1526.5,2534.9 1531.4,2534.2C1539.0,2533.1 1546.1,2526.0 1552.5,2521.0C1559.3,2515.6 1565.1,2508.5 1571.0,2502.0C1577.4,2494.9 1582.2,2485.3 1589.5,2480.0C1594.0,2476.7 1599.8,2472.1 1605.3,2472.1C1637.3,2472.1 1674.1,2472.1 1708.4,2472.1C1721.5,2472.1 1734.5,2474.4 1747.5,2475.7C1760.5,2477.0 1773.4,2479.2 1786.4,2480.0C1795.0,2480.5 1803.7,2480.5 1812.3,2481.1C1822.4,2481.8 1832.4,2485.9 1842.5,2486.5C1852.5,2487.1 1863.1,2486.8 1872.7,2487.6C1874.2,2487.7 1875.5,2489.3 1877.0,2489.3C1887.0,2489.6 1897.2,2489.7 1908.3,2489.7" stroke="#2e2eff" stroke-width="3.3"/>
<path d="M181.0,2079.0C181.0,2086.1 181.1,2093.1 181.4,2100.0C181.5,2103.4 182.7,2106.7 183.2,2110.0C183.8,2114.0 184.4,2118.0 184.9,2122.0C185.6,2128.0 186.2,2134.0 186.8,2140.0C187.5,2147.4 187.9,2154.7 188.6,2162.1C189.3,2170.4 190.1,2178.7 191.1,2187.0C192.0,2194.7 193.4,2202.3 194.6,2210.0C196.2,2219.9 197.9,2229.7 199.6,2239.6C200.9,2247.0 202.2,2254.3 203.6,2261.7C205.2,2270.1 206.5,2278.6 208.6,2286.8C210.0,2292.3 212.3,2297.6 214.0,2303.0C215.6,2308.0 216.8,2313.1 218.5,2318.0C220.4,2323.5 222.8,2329.0 225.5,2334.0C227.6,2337.8 230.3,2341.6 233.0,2345.0C236.0,2348.7 239.2,2353.0 243.0,2355.5C248.0,2358.8 254.6,2361.1 260.6,2363.0C269.1,2365.6 278.0,2367.4 286.8,2369.1C297.3,2371.2 307.9,2372.8 318.5,2374.4C329.0,2376.0 339.9,2376.7 350.0,2379.0C356.8,2380.5 363.4,2383.9 369.8,2386.9C376.6,2390.1 383.4,2393.6 389.6,2397.8C391.5,2399.1 393.2,2400.6 395.0,2402.1C397.7,2404.3 400.4,2406.5 402.9,2409.0C405.4,2411.5 407.7,2414.1 409.8,2416.9C412.1,2419.9 413.9,2423.3 416.1,2426.4C417.8,2428.9 419.7,2431.3 421.4,2433.8C423.1,2436.2 424.6,2438.7 426.2,2441.2C428.1,2444.2 429.9,2447.3 432.0,2450.2C434.0,2452.9 436.1,2455.6 438.3,2458.1C440.5,2460.5 442.9,2462.7 445.2,2465.0C447.8,2467.5 450.2,2470.3 453.1,2472.4C455.5,2474.2 458.2,2476.8 461.0,2477.1C465.3,2477.5 470.3,2477.6 475.0,2477.7C503.3,2478.3 531.7,2478.2 560.0,2478.7C577.6,2479.0 596.5,2479.1 612.8,2480.6C614.6,2480.8 616.3,2483.2 618.1,2483.3C631.2,2483.9 646.8,2483.4 660.4,2484.0C662.2,2484.1 663.9,2485.8 665.7,2485.9C680.9,2486.6 698.1,2486.0 713.2,2486.7C715.0,2486.8 716.7,2488.7 718.5,2488.8C733.6,2489.2 751.4,2488.9 766.1,2489.3C767.9,2489.4 769.6,2491.9 771.4,2492.0C785.3,2492.4 802.0,2492.1 816.3,2492.5C818.1,2492.6 819.8,2494.5 821.6,2494.6C836.7,2495.5 854.0,2494.8 869.1,2495.7C870.9,2495.8 872.6,2497.7 874.4,2497.8C895.3,2498.9 918.1,2498.4 940.0,2499.1C948.8,2499.4 957.6,2500.4 966.4,2500.4C979.6,2500.4 993.0,2499.2 1006.0,2497.8C1019.4,2496.4 1032.4,2490.2 1045.7,2487.2C1058.8,2484.2 1072.0,2480.5 1085.3,2479.3C1098.4,2478.2 1111.7,2477.6 1124.9,2477.1C1136.4,2476.7 1147.8,2476.1 1159.3,2476.1C1167.2,2476.1 1175.4,2476.5 1183.1,2477.1C1191.3,2477.7 1199.2,2482.3 1207.2,2485.0C1216.9,2488.3 1226.6,2491.5 1236.2,2495.1C1246.0,2498.8 1255.7,2502.7 1265.3,2506.8C1275.1,2510.9 1284.7,2515.4 1294.4,2519.8C1304.1,2524.1 1313.8,2528.4 1323.4,2532.9C1329.0,2535.5 1334.4,2538.5 1340.0,2540.9C1342.1,2541.8 1344.3,2542.5 1346.4,2543.4C1355.5,2547.5 1363.6,2554.4 1372.8,2558.0C1381.2,2561.3 1390.3,2564.5 1399.3,2565.9C1412.2,2567.9 1426.2,2567.7 1438.9,2569.9C1448.0,2571.4 1456.4,2577.4 1465.3,2580.4C1476.6,2584.2 1488.0,2590.5 1499.7,2590.5C1512.6,2590.5 1526.6,2590.5 1539.3,2590.5C1545.7,2590.5 1551.9,2586.0 1557.8,2583.1C1564.3,2579.9 1570.2,2575.2 1576.3,2571.2C1585.2,2565.4 1593.0,2555.2 1602.7,2553.5C1609.1,2552.4 1616.8,2551.4 1623.8,2551.4C1641.4,2551.4 1659.9,2551.4 1676.7,2551.4C1678.5,2551.4 1680.2,2553.5 1682.0,2553.5C1696.7,2553.5 1716.2,2553.4 1728.1,2553.4C1728.9,2553.4 1729.4,2555.5 1730.2,2555.6C1741.4,2556.6 1761.8,2555.7 1773.4,2556.7C1774.2,2556.8 1774.8,2558.7 1775.6,2558.8C1786.0,2559.8 1804.2,2558.9 1814.4,2559.9C1815.2,2560.0 1815.8,2562.1 1816.6,2562.1C1826.3,2562.6 1843.8,2562.2 1853.3,2562.7C1854.1,2562.7 1854.6,2564.8 1855.4,2564.9C1864.9,2565.6 1879.9,2565.2 1892.1,2565.7C1897.5,2565.9 1902.9,2567.0 1908.3,2567.9" stroke="#ff22ff" stroke-width="3.3"/>
<path d="M184.9,2208.8L180.5,2209.8C180.7,2223.2 180.8,2236.6 181.0,2250.0C181.2,2265.3 181.3,2280.7 181.5,2296.0C182.2,2297.3 183.2,2298.6 183.3,2300.0C183.7,2311.8 183.5,2325.0 183.8,2337.4C184.1,2351.6 186.8,2365.7 189.1,2379.7C190.9,2391.2 193.4,2402.7 196.6,2413.8C198.3,2419.5 200.2,2425.6 203.0,2430.7C205.1,2434.5 208.2,2438.3 211.4,2441.3C214.4,2444.1 218.2,2446.9 222.0,2448.7C225.3,2450.3 229.0,2451.6 232.6,2452.4C236.0,2453.1 239.6,2454.0 243.1,2454.0C251.1,2454.0 259.6,2454.0 267.4,2454.0C268.9,2454.0 270.2,2455.5 271.7,2455.6C275.1,2455.9 278.9,2455.8 282.2,2456.1C283.3,2456.2 284.3,2457.7 285.4,2457.7C292.0,2457.7 300.2,2457.7 306.5,2457.7C307.6,2457.7 308.6,2459.7 309.7,2459.8C314.1,2460.2 320.1,2459.9 324.5,2460.3C326.0,2460.4 327.2,2462.5 328.7,2463.0C332.2,2464.3 336.3,2464.5 340.0,2465.5C344.0,2466.6 347.9,2468.1 351.7,2469.6C357.1,2471.8 362.7,2474.0 367.6,2477.0C371.8,2479.5 375.7,2483.0 379.2,2486.5C383.0,2490.3 386.4,2494.9 389.7,2499.2C393.4,2504.0 396.8,2509.0 400.3,2514.0C403.5,2518.5 406.4,2523.3 409.8,2527.7C413.1,2532.1 416.5,2536.7 420.4,2540.4C423.6,2543.3 427.1,2546.8 431.0,2548.3C435.7,2550.1 441.5,2552.0 446.8,2552.0C474.2,2552.2 503.0,2552.0 530.4,2552.2C533.1,2552.2 535.6,2554.1 538.3,2554.1C555.2,2554.1 573.0,2554.1 589.9,2554.1C592.6,2554.1 595.1,2556.0 597.8,2556.1C610.8,2556.7 624.4,2556.3 637.4,2556.9C640.1,2557.0 642.6,2558.9 645.3,2558.9C659.6,2558.9 674.9,2558.9 688.9,2558.9C691.6,2558.9 694.2,2561.5 696.9,2561.7C710.9,2562.6 726.3,2562.0 740.5,2562.9C743.2,2563.1 745.7,2565.1 748.4,2565.2C762.6,2565.8 778.0,2565.4 792.0,2566.0C794.7,2566.1 797.2,2568.6 799.9,2568.8C813.9,2569.7 829.2,2569.1 843.5,2570.0C846.2,2570.2 848.7,2571.9 851.4,2572.0C865.7,2572.6 880.7,2572.2 895.0,2572.8C897.7,2572.9 900.2,2574.5 902.9,2574.7C925.4,2576.1 948.8,2576.5 971.7,2576.5C1016.6,2576.5 1063.6,2576.5 1106.4,2576.5C1108.2,2576.5 1109.9,2574.4 1111.7,2574.4C1132.7,2574.4 1156.2,2574.7 1177.8,2575.7C1182.3,2575.9 1186.6,2578.2 1191.0,2579.1C1204.0,2581.7 1217.5,2582.5 1230.6,2584.9C1243.9,2587.3 1257.0,2591.3 1270.3,2594.2C1283.5,2597.0 1296.6,2600.0 1309.9,2602.1C1313.3,2602.6 1316.7,2602.9 1320.0,2603.5C1328.9,2605.1 1337.5,2608.8 1346.4,2610.8C1357.8,2613.4 1369.3,2616.1 1380.8,2617.4C1398.3,2619.4 1416.1,2619.5 1433.6,2621.4C1448.7,2623.0 1463.4,2627.4 1478.5,2629.3C1487.3,2630.4 1496.1,2631.9 1504.9,2631.9C1516.3,2631.9 1528.2,2631.9 1539.3,2631.9C1542.0,2631.9 1544.5,2634.6 1547.2,2634.6C1550.7,2634.6 1554.2,2632.5 1557.8,2631.9C1563.0,2631.1 1568.5,2631.0 1573.6,2630.1C1578.1,2629.3 1582.3,2626.0 1586.8,2625.3C1594.5,2624.1 1602.7,2623.2 1610.6,2623.2C1628.2,2623.2 1645.9,2623.6 1663.5,2624.0C1676.7,2624.3 1690.1,2625.2 1703.1,2626.7C1705.7,2627.0 1708.2,2628.2 1710.8,2628.3C1724.3,2628.8 1739.0,2628.4 1751.8,2629.0C1753.3,2629.1 1754.6,2631.0 1756.1,2631.1C1767.5,2632.0 1783.1,2631.3 1792.8,2632.2C1793.6,2632.3 1794.2,2634.3 1795.0,2634.4C1804.7,2635.3 1820.3,2634.6 1831.7,2635.5C1833.2,2635.6 1834.5,2637.5 1836.0,2637.6C1846.8,2638.5 1859.1,2638.1 1870.6,2638.7C1883.2,2639.3 1895.8,2641.0 1908.3,2643.0" stroke="#00f8f8" stroke-width="4.0"/>
</g>
<path d="M181.3,2078 L181.5,2101" stroke="#ff22ff" stroke-width="5.5" stroke-linecap="round" fill="none"/>
<rect x="173.4" y="1641" width="1735.9" height="1179.6" fill="none" stroke="#222222" stroke-width="3.6"/>
<g stroke="#222222" stroke-width="3.6"><line x1="519.5" y1="2820.6" x2="519.5" y2="2804"/><line x1="866.5" y1="2820.6" x2="866.5" y2="2804"/><line x1="1213.7" y1="2820.6" x2="1213.7" y2="2804"/><line x1="1561.7" y1="2820.6" x2="1561.7" y2="2804"/></g>
<g fill="none"><line x1="1581" y1="1759.6" x2="1692" y2="1759.6" stroke="#3c3c3c" stroke-width="3.8"/><line x1="1581" y1="1817.7" x2="1692" y2="1817.7" stroke="#ff2626" stroke-width="3.8"/><line x1="1581" y1="1876.4" x2="1692" y2="1876.4" stroke="#00fa3c" stroke-width="3.8"/><line x1="1581" y1="1935.7" x2="1692" y2="1935.7" stroke="#5a5aff" stroke-width="3.8"/><line x1="1581" y1="1995.0" x2="1692" y2="1995.0" stroke="#ff22ff" stroke-width="3.8"/><line x1="1581" y1="2053.2" x2="1692" y2="2053.2" stroke="#00f8f8" stroke-width="3.8"/></g>
<g fill="#000">
<text transform="matrix(1.0678 0 0 1.0258 140.23 2885.80)" font-family='"Liberation Serif","Noto Serif CJK SC",serif' font-size="46">-50</text>
<text transform="matrix(1.0571 0 0 1.0065 507.64 2885.20)" font-family='"Liberation Serif","Noto Serif CJK SC",serif' font-size="46">0</text>
<text transform="matrix(1.0977 0 0 1.0129 841.80 2885.40)" font-family='"Liberation Serif","Noto Serif CJK SC",serif' font-size="46">50</text>
<text transform="matrix(1.1328 0 0 1.0161 1174.27 2885.50)" font-family='"Liberation Serif","Noto Serif CJK SC",serif' font-size="46">100</text>
<text transform="matrix(1.1328 0 0 1.0161 1521.37 2885.50)" font-family='"Liberation Serif","Noto Serif CJK SC",serif' font-size="46">150</text>
<text transform="matrix(1.0985 0 0 1.0226 1869.70 2885.50)" font-family='"Liberation Serif","Noto Serif CJK SC",serif' font-size="46">200</text>
<text transform="matrix(1.0520 0 0 0.9920 844.15 2987.50)" font-family='"Liberation Serif","Noto Serif CJK SC",serif' font-size="55">Temperature(&#176;C)</text>
<text transform="matrix(0.9981 0 0 0.9610 71.22 2407.06) rotate(-90)" font-family='"Liberation Serif","Noto Serif CJK SC",serif' font-size="57">Heat Flow(mW)</text>
<text transform="matrix(1.0378 0 0 1.0238 1395.86 1700.26)" font-family='"Liberation Serif","Noto Serif CJK SC",serif' font-size="47">P(3HB-co-4HB) mixture</text>
<text transform="matrix(1.0613 0 0 1.1517 1717.34 1773.60)" font-family='"Liberation Serif","Noto Serif CJK SC",serif' font-size="44">9 / 1</text>
<text transform="matrix(1.1200 0 0 1.2276 1717.28 1833.20)" font-family='"Liberation Serif","Noto Serif CJK SC",serif' font-size="44">8 / 2</text>
<text transform="matrix(1.1243 0 0 1.2517 1715.03 1891.30)" font-family='"Liberation Serif","Noto Serif CJK SC",serif' font-size="44">7 / 3</text>
<text transform="matrix(1.1224 0 0 1.1517 1715.86 1950.80)" font-family='"Liberation Serif","Noto Serif CJK SC",serif' font-size="44">6 / 4</text>
<text transform="matrix(1.1147 0 0 1.2138 1716.17 2011.40)" font-family='"Liberation Serif","Noto Serif CJK SC",serif' font-size="44">5 / 5</text>
<text transform="matrix(1.1461 0 0 1.1793 1715.15 2069.20)" font-family='"Liberation Serif","Noto Serif CJK SC",serif' font-size="44">4 / 6</text>
</g>
</g>
<g fill="#000">
<text transform="matrix(0.9351 0 0 1.0000 961.36 1519.90)" font-family='"Liberation Serif","Noto Serif CJK SC",serif' font-size="88"><tspan stroke="#fff" stroke-width="1.6">(</tspan><tspan font-weight="bold">a</tspan><tspan stroke="#fff" stroke-width="1.6">)</tspan></text>
<text transform="matrix(0.9980 0 0 0.9747 955.51 3107.23)" font-family='"Liberation Serif","Noto Serif CJK SC",serif' font-size="88"><tspan stroke="#fff" stroke-width="1.6">(</tspan><tspan font-weight="bold">b</tspan><tspan stroke="#fff" stroke-width="1.6">)</tspan></text>
</g>
</svg>
</body></html>
